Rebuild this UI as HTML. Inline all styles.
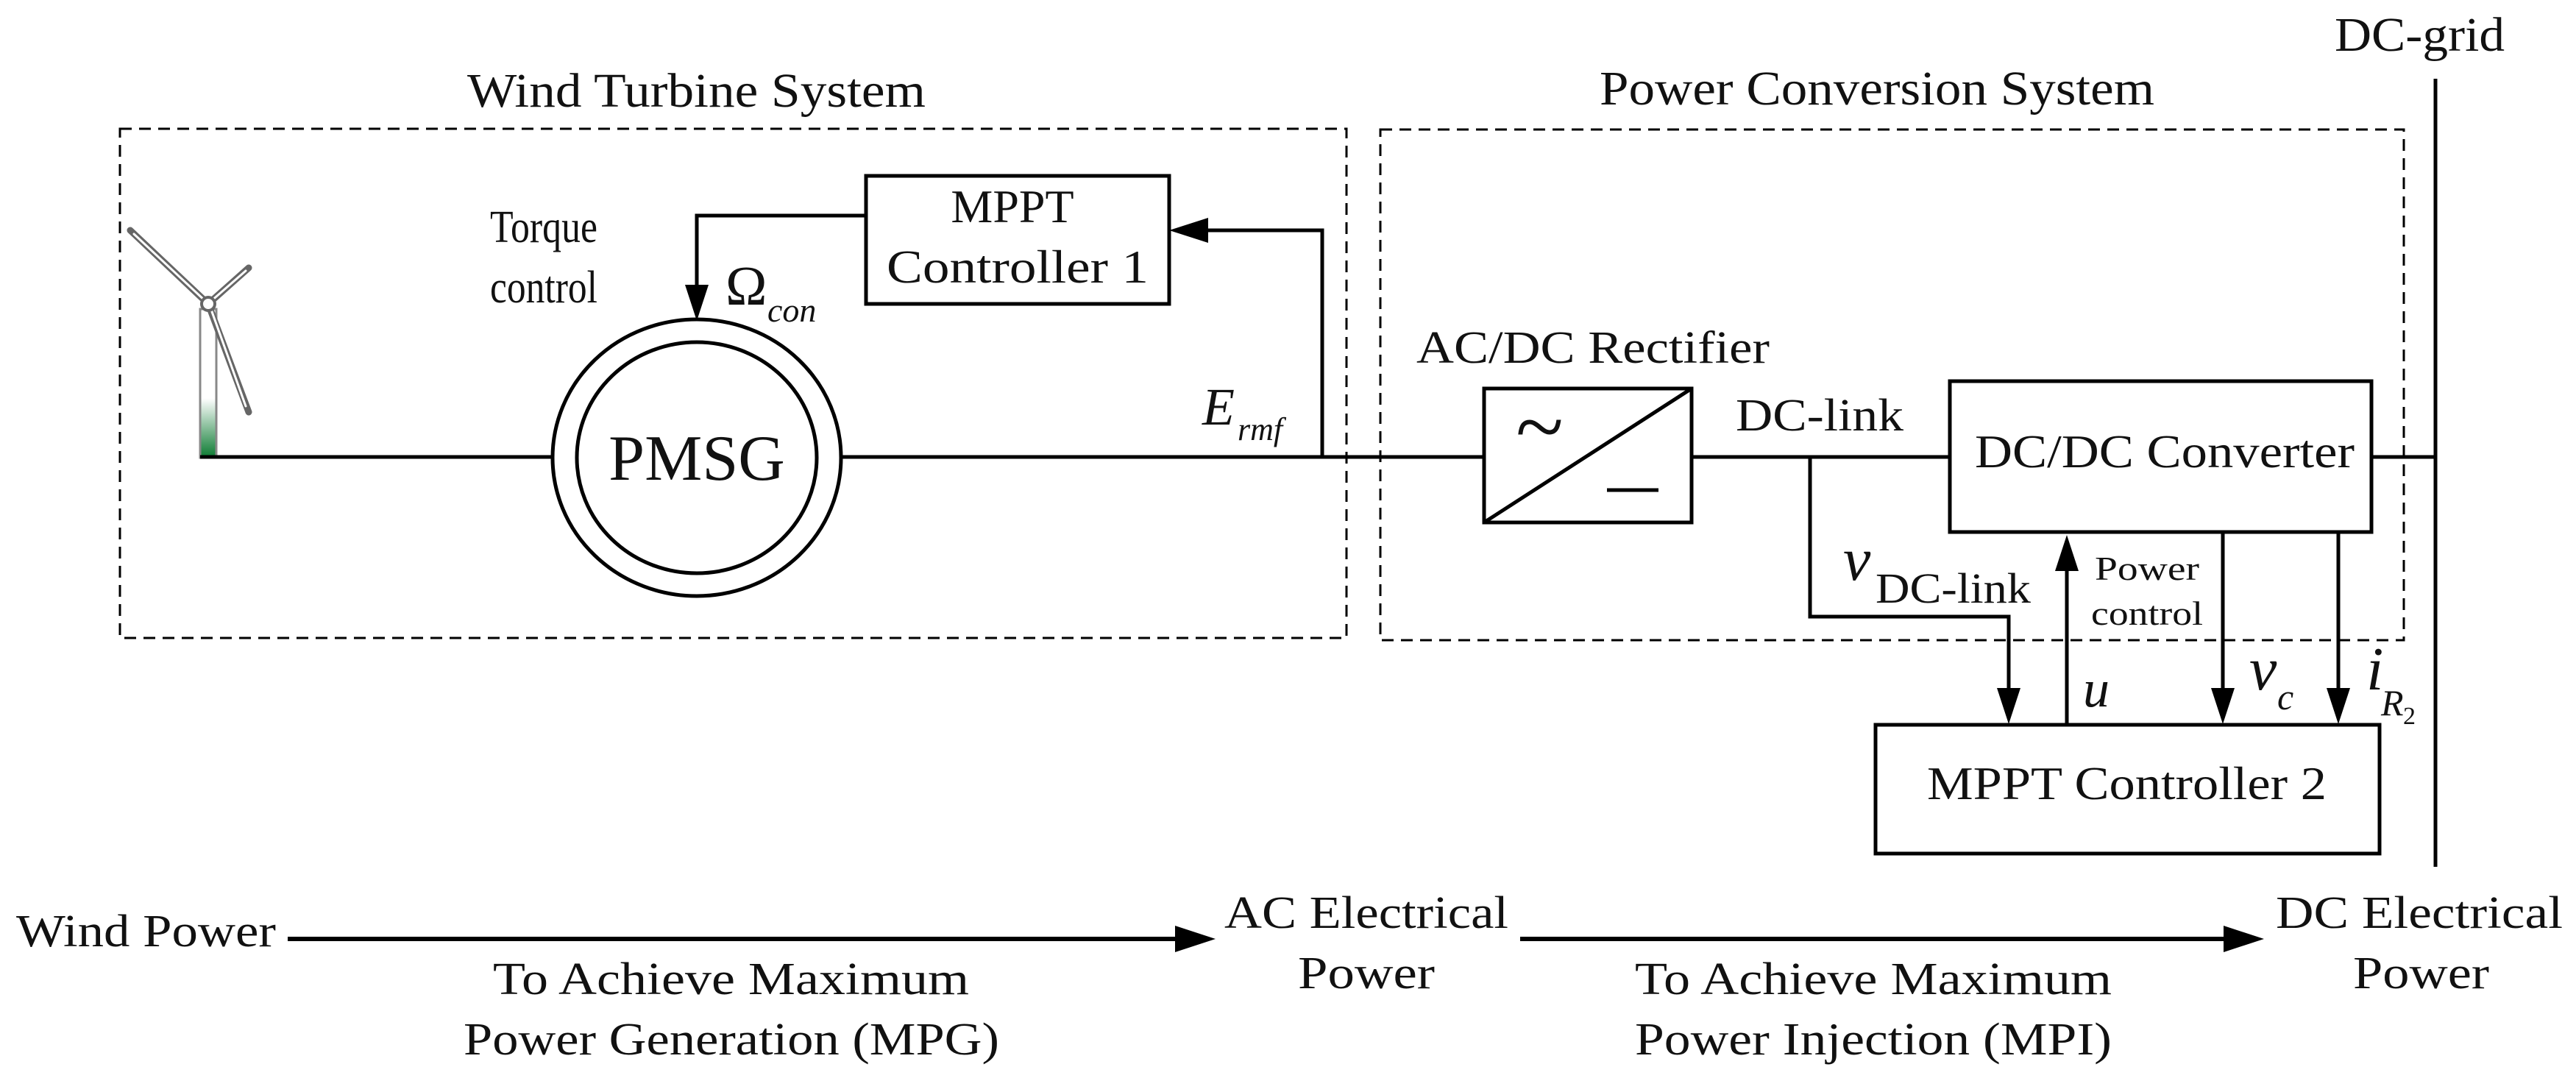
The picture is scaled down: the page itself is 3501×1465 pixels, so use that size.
<!DOCTYPE html>
<html><head><meta charset="utf-8"><style>
html,body{margin:0;padding:0;background:#fff;}
svg{display:block;}
text{font-family:"Liberation Serif",serif;fill:#111;}
</style></head><body>
<svg width="3501" height="1465" viewBox="0 0 3501 1465" xmlns="http://www.w3.org/2000/svg">
<defs>
<linearGradient id="tw" x1="0" y1="0" x2="0" y2="1">
<stop offset="0" stop-color="#fff"/><stop offset="0.6" stop-color="#fff"/><stop offset="1" stop-color="#0a7a30"/>
</linearGradient>
</defs>
<g fill="none" stroke="#000" stroke-width="3" stroke-dasharray="16,10">
<rect x="163" y="175" width="1667" height="692"/>
<rect x="1876" y="176" width="1391" height="694"/>
</g>
<text x="635" y="145" font-size="66" textLength="623" lengthAdjust="spacingAndGlyphs">Wind Turbine System</text>
<text x="2174" y="142" font-size="66" textLength="754" lengthAdjust="spacingAndGlyphs">Power Conversion System</text>
<text x="3173" y="69" font-size="66" textLength="231" lengthAdjust="spacingAndGlyphs">DC-grid</text>

<!-- turbine -->
<rect x="272" y="420" width="22" height="202" fill="url(#tw)" stroke="#888" stroke-width="3"/>
<g stroke="#666" stroke-width="9" fill="none" stroke-linecap="round">
<line x1="283" y1="413" x2="177" y2="313"/>
<line x1="283" y1="413" x2="338" y2="364"/>
<line x1="283" y1="413" x2="338" y2="560"/>
</g>
<g stroke="#fff" stroke-width="3" fill="none" stroke-linecap="round">
<line x1="280" y1="410" x2="182" y2="318"/>
<line x1="286" y1="410" x2="334" y2="368"/>
<line x1="286" y1="418" x2="334" y2="552"/>
</g>
<circle cx="283" cy="413" r="9" fill="#fff" stroke="#666" stroke-width="4"/>

<g stroke="#000" stroke-width="5" fill="none">
<line x1="272" y1="621" x2="752" y2="621"/>
<line x1="1143" y1="621" x2="2017" y2="621"/>
<line x1="2299" y1="621" x2="2650" y2="621"/>
<line x1="3223" y1="621" x2="3310" y2="621"/>
<line x1="3310" y1="107" x2="3310" y2="1178"/>
<ellipse cx="947" cy="622" rx="196" ry="188" stroke-width="5"/>
<ellipse cx="947" cy="622" rx="163" ry="157" stroke-width="5"/>
<rect x="1177" y="239" width="412" height="174"/>
<polyline points="1177,293 947,293 947,395"/>
<polyline points="1797,621 1797,313 1640,313"/>
<rect x="2017" y="528" width="282" height="182"/>
<line x1="2017" y1="710" x2="2299" y2="528"/>
<line x1="2184" y1="666" x2="2254" y2="666"/>
<rect x="2650" y="518" width="573" height="205"/>
<polyline points="2460,621 2460,838 2730,838 2730,940"/>
<line x1="2809" y1="987" x2="2809" y2="770"/>
<line x1="3021" y1="723" x2="3021" y2="940"/>
<line x1="3178" y1="723" x2="3178" y2="940"/>
<rect x="2549" y="985" width="685" height="175"/>
<line x1="391" y1="1276" x2="1600" y2="1276" stroke-width="6"/>
<line x1="2066" y1="1276" x2="3030" y2="1276" stroke-width="6"/>
</g>
<g fill="#000">
<polygon points="947,436 931,387 963,387"/>
<polygon points="1589,313 1642,296 1642,330"/>
<polygon points="2730,984 2714,935 2746,935"/>
<polygon points="2809,727 2793,776 2825,776"/>
<polygon points="3021,984 3005,935 3037,935"/>
<polygon points="3178,984 3162,935 3194,935"/>
<polygon points="1652,1276 1597,1258 1597,1294"/>
<polygon points="3077,1276 3022,1258 3022,1294"/>
</g>
<text x="2060" y="620" font-size="120">~</text>

<text x="1376" y="302" font-size="64" text-anchor="middle">MPPT</text>
<text x="1205" y="384" font-size="64" textLength="356" lengthAdjust="spacingAndGlyphs">Controller 1</text>
<text x="666" y="329" font-size="62" textLength="146" lengthAdjust="spacingAndGlyphs">Torque</text>
<text x="666" y="411" font-size="62" textLength="146" lengthAdjust="spacingAndGlyphs">control</text>
<text x="986" y="414" font-size="76">Ω</text>
<text x="1043" y="437" font-size="46" font-style="italic">con</text>
<text x="947" y="652" font-size="88" text-anchor="middle">PMSG</text>
<text x="1634" y="577" font-size="72" font-style="italic">E</text>
<text x="1682" y="598" font-size="44" font-style="italic">rmf</text>
<text x="1925" y="493" font-size="62" textLength="480" lengthAdjust="spacingAndGlyphs">AC/DC Rectifier</text>
<text x="2359" y="585" font-size="62" textLength="228" lengthAdjust="spacingAndGlyphs">DC-link</text>
<text x="2684" y="635" font-size="64" textLength="516" lengthAdjust="spacingAndGlyphs">DC/DC Converter</text>
<text x="2505" y="788" font-size="84" font-style="italic">v</text>
<text x="2549" y="819" font-size="58" textLength="211" lengthAdjust="spacingAndGlyphs">DC-link</text>
<text x="2847" y="788" font-size="46" textLength="142" lengthAdjust="spacingAndGlyphs">Power</text>
<text x="2842" y="849" font-size="46" textLength="152" lengthAdjust="spacingAndGlyphs">control</text>
<text x="2831" y="960" font-size="72" font-style="italic">u</text>
<text x="3057" y="937" font-size="84" font-style="italic">v</text>
<text x="3095" y="964" font-size="50" font-style="italic">c</text>
<text x="3216" y="937" font-size="84" font-style="italic">i</text>
<text x="3236" y="972" font-size="50" font-style="italic">R</text>
<text x="3266" y="984" font-size="34">2</text>
<text x="2619" y="1086" font-size="64" textLength="543" lengthAdjust="spacingAndGlyphs">MPPT Controller 2</text>

<text x="22" y="1286" font-size="62" textLength="353" lengthAdjust="spacingAndGlyphs">Wind Power</text>
<text x="1664" y="1261" font-size="62" textLength="386" lengthAdjust="spacingAndGlyphs">AC Electrical</text>
<text x="1764" y="1343" font-size="62" textLength="186" lengthAdjust="spacingAndGlyphs">Power</text>
<text x="3093" y="1261" font-size="62" textLength="390" lengthAdjust="spacingAndGlyphs">DC Electrical</text>
<text x="3198" y="1343" font-size="62" textLength="185" lengthAdjust="spacingAndGlyphs">Power</text>
<text x="670" y="1351" font-size="62" textLength="647" lengthAdjust="spacingAndGlyphs">To Achieve Maximum</text>
<text x="630" y="1433" font-size="62" textLength="728" lengthAdjust="spacingAndGlyphs">Power Generation (MPG)</text>
<text x="2222" y="1351" font-size="62" textLength="648" lengthAdjust="spacingAndGlyphs">To Achieve Maximum</text>
<text x="2222" y="1433" font-size="62" textLength="648" lengthAdjust="spacingAndGlyphs">Power Injection (MPI)</text>
</svg>
</body></html>
